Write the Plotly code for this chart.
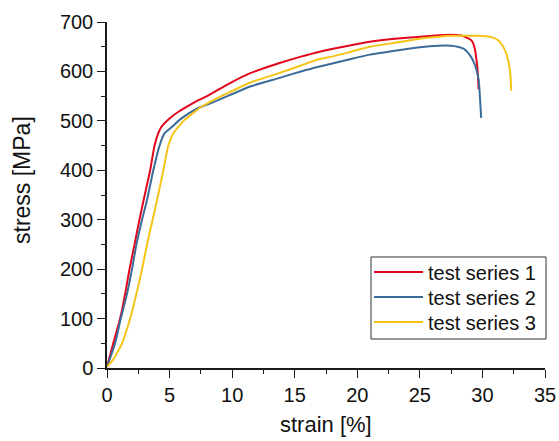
import plotly.graph_objects as go

# ---- data ----
series_names = ["test series 1", "test series 2", "test series 3"]

strain_1 = [0, 0.5, 1.05, 1.45, 1.8, 2.2, 2.55, 2.93, 3.45, 3.8, 4.1, 4.35, 5.0, 5.8, 6.6, 7.3, 8.0,
            9.8, 11.5, 13.8, 15.5, 17.0, 19.5, 21.0, 23.0, 25.0, 26.5, 27.5, 28.2, 28.6, 29.0, 29.2,
            29.4, 29.5, 29.6, 29.7]
stress_1 = [2, 50, 100, 150, 200, 250, 295, 340, 400, 450, 475, 488, 505, 520, 532, 542, 550,
            576, 597, 617, 630, 640, 653, 660, 666, 670, 673, 674, 673, 670, 665, 660,
            645, 628, 607, 564]

strain_2 = [0, 0.65, 1.1, 1.6, 2.0, 2.35, 2.8, 3.2, 3.7, 4.2, 4.6, 5.2, 5.8, 6.6, 7.3, 8.5, 9.8,
            11.5, 13.8, 15.5, 17.0, 19.0, 21.0, 23.0, 25.0, 26.5, 27.5, 28.0, 28.5, 29.0, 29.4,
            29.7, 29.8, 29.9]
stress_2 = [2, 50, 100, 150, 200, 250, 300, 340, 400, 450, 475, 488, 502, 516, 526, 538, 552,
            570, 587, 600, 610, 622, 634, 642, 649, 652, 652, 650, 646, 633, 613,
            583, 548, 506]

strain_3 = [0, 0.5, 1.2, 1.85, 2.35, 2.8, 3.2, 3.6, 4.0, 4.5, 4.9, 5.3, 5.7, 6.2, 6.9, 7.4, 8.5,
            9.8, 11.5, 13.8, 15.5, 17.0, 18.0, 19.5, 21.0, 23.0, 25.0, 26.5, 27.5, 28.5, 29.5,
            30.3, 30.9, 31.2, 31.5, 31.8, 32.0, 32.15, 32.25, 32.3]
stress_3 = [3, 17, 50, 100, 150, 200, 250, 295, 340, 400, 450, 475, 488, 502, 516, 526, 542,
            558, 578, 597, 612, 625, 630, 640, 650, 658, 666, 670, 672, 672, 672,
            671, 668, 664, 656, 643, 628, 610, 588, 561]

colors = ["#e2061c", "#3b6b98", "#f6c417"]
legend_ids = ["legend", "legend2", "legend3"]

x_title = "strain [%]"
y_title = "stress [MPa]"

FONT = "Liberation Sans, Arial, sans-serif"

fig = go.Figure()
for name, xs, ys, c, lg in zip(series_names, [strain_1, strain_2, strain_3],
                               [stress_1, stress_2, stress_3], colors, legend_ids):
    fig.add_trace(go.Scatter(x=xs, y=ys, mode="lines", name=name, legend=lg,
                             line=dict(color=c, width=2, shape="spline", smoothing=0.5)))

axis_common = dict(
    showline=True, linecolor="#1a1a1a", linewidth=1.5,
    ticks="outside", ticklen=8, tickwidth=1.2, tickcolor="#1a1a1a",
    showgrid=False, zeroline=False, mirror=False, automargin=False,
    tickfont=dict(family=FONT, size=20, color="#111111"),
)

# plot area in px: x 107..545, y 22..368
L, R, T, B = 107, 545, 22, 368
W, H = R - L, B - T


def px_x(p):
    return (p - L) / W


def px_y(p):
    return (B - p) / H


legend_common = dict(x=px_x(541), xanchor="right", yanchor="middle",
                     borderwidth=0, bgcolor="rgba(0,0,0,0)", itemwidth=49,
                     font=dict(family=FONT, size=20, color="#111111"))

fig.update_layout(
    width=559, height=441,
    margin=dict(l=L, r=559 - R, t=T, b=441 - B, autoexpand=False),
    paper_bgcolor="white", plot_bgcolor="white",
    font=dict(family=FONT, color="#111111"),
    xaxis=dict(range=[0, 35], dtick=5, tick0=0,
               minor=dict(dtick=2.5, ticks="outside", ticklen=4, tickcolor="#1a1a1a"),
               **axis_common),
    yaxis=dict(range=[0, 700], dtick=100, tick0=0,
               minor=dict(dtick=50, ticks="outside", ticklen=4, tickcolor="#1a1a1a"),
               **axis_common),
    legend=dict(y=px_y(272), **legend_common),
    legend2=dict(y=px_y(297), **legend_common),
    legend3=dict(y=px_y(322), **legend_common),
    showlegend=True,
    shapes=[dict(type="rect", xref="paper", yref="paper",
                 x0=px_x(371), x1=px_x(546), y0=px_y(339), y1=px_y(257),
                 line=dict(color="#333333", width=1), fillcolor="rgba(0,0,0,0)", layer="below")],
    annotations=[
        dict(text=x_title, xref="paper", yref="paper", x=0.5, y=px_y(424),
             xanchor="center", yanchor="middle", showarrow=False,
             font=dict(family=FONT, size=22, color="#111111")),
        dict(text=y_title, xref="paper", yref="paper", x=px_x(22), y=px_y(180),
             xanchor="center", yanchor="middle", showarrow=False, textangle=-90,
             font=dict(family=FONT, size=23, color="#111111")),
    ],
)

fig.write_html("out.html")
